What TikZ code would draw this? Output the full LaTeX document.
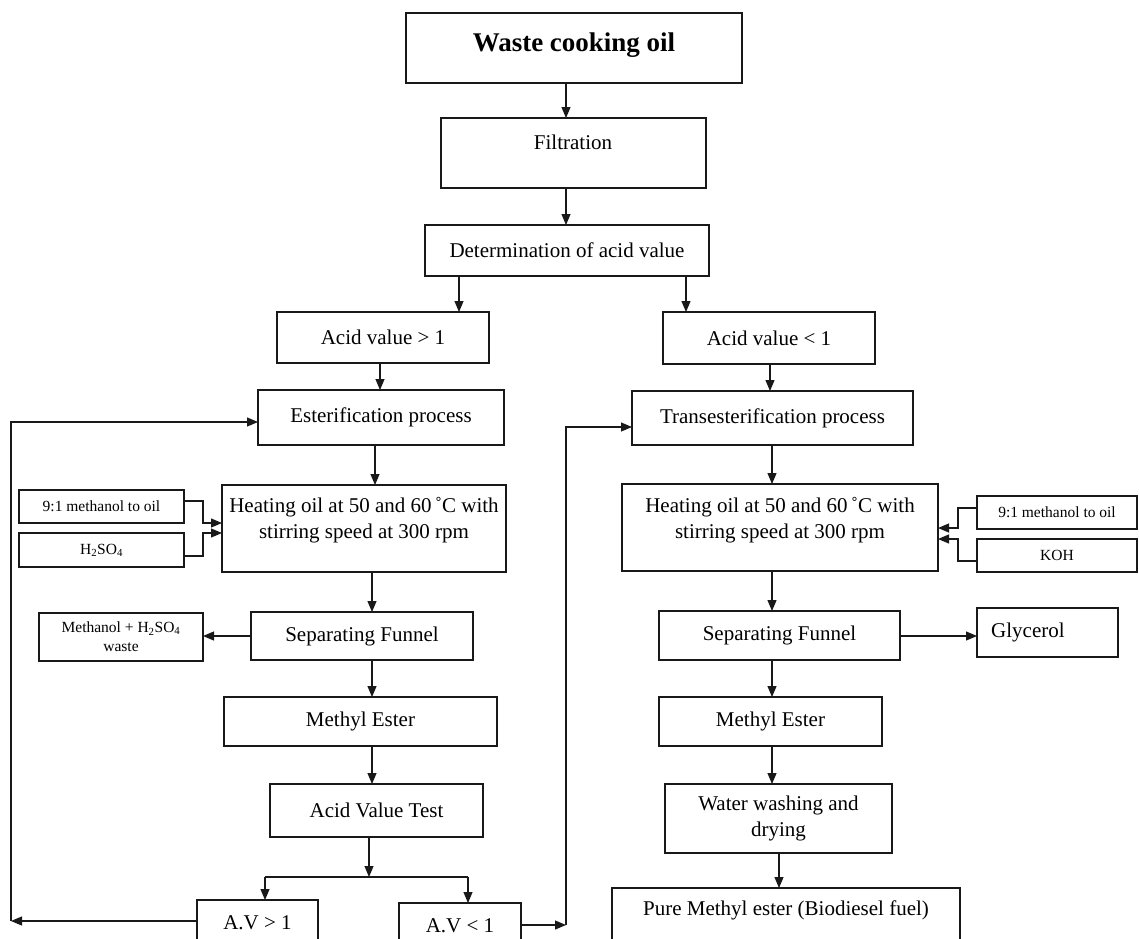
\documentclass[tikz,border=0pt]{standalone}
\usepackage{fontspec}
\setmainfont{Liberation Serif}
\usetikzlibrary{arrows.meta}
\newcommand\fmain{\fontsize{21}{25.5}\selectfont}
\newcommand\fsmall{\fontsize{15.5}{19}\selectfont}
\newcommand\ftitle{\bfseries\fontsize{27}{32}\selectfont}
\newcommand\mkbox[6]{\node[box,minimum width={#4pt-#2pt},minimum height={#5pt-#3pt}] (#1) at ({(#2+#4)/2},{(#3+#5)/2}) {#6};}
\begin{document}
\begin{tikzpicture}[x=1pt,y=-1pt,
  box/.style={draw=black!90,line width=1.1pt,rectangle,inner sep=0pt,outer sep=0pt,align=center,font=\fmain},
  sbox/.style={box,font=\fsmall},
  txt/.style={inner sep=0pt,align=center,font=\fmain},
  arr/.style={draw=black!90,line width=1.1pt,-{Triangle[length=11pt,width=9pt]}},
  ln/.style={draw=black!90,line width=1.1pt}]
\useasboundingbox (0,0) rectangle (1139,938);
\clip (0,0) rectangle (1139,938);
% boxes
\mkbox{waste}{406}{13}{742}{83}{}
\node[txt,font=\ftitle] at (574,45) {Waste cooking oil};
\mkbox{filt}{441}{118}{706}{188}{}
\node[txt] at (573,142) {Filtration};
\mkbox{det}{425}{225}{709}{276}{Determination of acid value}
\mkbox{ag}{277}{312}{489}{363}{Acid value > 1}
\mkbox{al}{663}{312}{875}{364}{Acid value < 1}
\mkbox{est}{258}{390}{504}{445}{Esterification process}
\mkbox{tra}{632}{391}{913}{445}{Transesterification process}
\mkbox{heL}{222}{485}{506}{572}{}
\node[txt] at (364,520) {Heating oil at 50 and 60\,˚C with\\stirring speed at 300 rpm};
\mkbox{heR}{622}{484}{938}{571}{}
\node[txt] at (780,520) {Heating oil at 50 and 60\,˚C with\\stirring speed at 300 rpm};
\node[sbox,minimum width=165pt,minimum height=33pt] (m1L) at (101.5,506.5) {9:1 methanol to oil};
\node[sbox,minimum width=165pt,minimum height=34pt] (h2s) at (101.5,550) {H\textsubscript{2}SO\textsubscript{4}};
\node[sbox,minimum width=160pt,minimum height=33pt] (m1R) at (1057,512.5) {9:1 methanol to oil};
\node[sbox,minimum width=160pt,minimum height=33pt] (koh) at (1057,555.5) {KOH};
\mkbox{spL}{251}{612}{473}{660}{Separating Funnel}
\node[sbox,minimum width=164pt,minimum height=48pt] (wst) at (121,637) {Methanol + H\textsubscript{2}SO\textsubscript{4}\\waste};
\mkbox{spR}{659}{611}{900}{660}{Separating Funnel}
\mkbox{gly}{977}{608}{1118}{657}{}
\node[txt,anchor=west] at (991,632) {Glycerol};
\mkbox{meL}{224}{697}{497}{746}{Methyl Ester}
\mkbox{meR}{659}{697}{882}{746}{Methyl Ester}
\mkbox{avt}{270}{784}{483}{837}{Acid Value Test}
\mkbox{wat}{665}{784}{892}{853}{Water washing and\\drying}
\mkbox{avg}{197}{900}{318}{946}{A.V > 1}
\mkbox{avl}{399}{903}{521}{949}{A.V < 1}
\mkbox{pure}{612}{888}{960}{960}{}
\node[txt] at (786,910) {Pure Methyl ester (Biodiesel fuel)};
% connectors
\draw[arr] (566,0 |- waste.south) -- (566,0 |- filt.north);
\draw[arr] (566,0 |- filt.south) -- (566,0 |- det.north);
\draw[arr] (459,0 |- det.south) -- (459,0 |- ag.north);
\draw[arr] (686,0 |- det.south) -- (686,0 |- al.north);
\draw[arr] (380,0 |- ag.south) -- (380,0 |- est.north);
\draw[arr] (770,0 |- al.south) -- (770,0 |- tra.north);
\draw[arr] (375,0 |- est.south) -- (375,0 |- heL.north);
\draw[arr] (772,0 |- tra.south) -- (772,0 |- heR.north);
\draw[arr] (372,0 |- heL.south) -- (372,0 |- spL.north);
\draw[arr] (772,0 |- heR.south) -- (772,0 |- spR.north);
\draw[arr] (372,0 |- spL.south) -- (372,0 |- meL.north);
\draw[arr] (772,0 |- spR.south) -- (772,0 |- meR.north);
\draw[arr] (372,0 |- meL.south) -- (372,0 |- avt.north);
\draw[arr] (772,0 |- meR.south) -- (772,0 |- wat.north);
\draw[arr] (779,0 |- wat.south) -- (779,0 |- pure.north);
\coordinate (j) at (369,877);
\coordinate (j1) at (265,877);
\coordinate (j2) at (468,877);
\draw[arr] (j |- avt.south) -- (j);
\draw[ln] (j1) -- (j2);
\draw[arr] (j1) -- (j1 |- avg.north);
\draw[arr] (j2) -- (j2 |- avl.north);
\draw[arr] (spL.west |- 0,636) -- (wst.east |- 0,636);
\draw[arr] (spR.east |- 0,636) -- (gly.west |- 0,636);
\draw[arr] (m1L.east |- 0,501) -| (203,523) -- (heL.west |- 0,523);
\draw[arr] (h2s.east |- 0,556) -| (203,533) -- (heL.west |- 0,533);
\draw[arr] (m1R.west |- 0,508) -| (958,528) -- (heR.east |- 0,528);
\draw[arr] (koh.west |- 0,561) -| (958,539) -- (heR.east |- 0,539);
\coordinate (lb) at (11,921);
\coordinate (lt) at (11,422);
\draw[arr] (avg.west |- lb) -- (lb);
\draw[arr] (lb) -- (lt) -- (est.west |- lt);
\coordinate (rb) at (566,925);
\coordinate (rt) at (566,427);
\draw[arr] (avl.east |- rb) -- (rb);
\draw[arr] (rb) -- (rt) -- (tra.west |- rt);
\end{tikzpicture}
\end{document}
